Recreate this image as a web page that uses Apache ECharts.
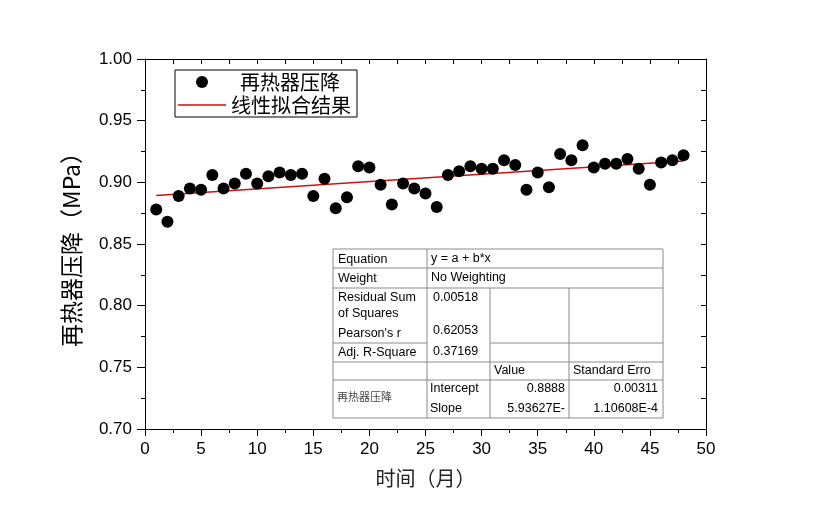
<!DOCTYPE html>
<html lang="zh">
<head>
<meta charset="UTF-8">
<title>再热器压降</title>
<style>
  html, body { margin: 0; padding: 0; background: #fff; }
  #main { width: 817px; height: 515px; }
</style>
<script src="https://cdn.jsdelivr.net/npm/echarts@6/dist/echarts.min.js"></script>
</head>
<body>
<div id="main"></div>
<script>
// 月份
var months = [1,2,3,4,5,6,7,8,9,10,11,12,13,14,15,16,17,18,19,20,21,22,23,24,
              25,26,27,28,29,30,31,32,33,34,35,36,37,38,39,40,41,42,43,44,45,46,47,48];
// 再热器压降 (MPa)
var pressureDrop = [0.878,0.868,0.889,0.895,0.894,0.906,0.895,0.899,0.907,0.899,0.905,0.908,
                    0.906,0.907,0.889,0.903,0.879,0.888,0.913,0.912,0.898,0.882,0.899,0.895,
                    0.891,0.880,0.906,0.909,0.913,0.911,0.911,0.918,0.914,0.894,0.908,0.896,
                    0.923,0.918,0.930,0.912,0.915,0.915,0.919,0.911,0.898,0.916,0.918,0.922];
// 线性拟合结果 (端点)
var fitX = [1, 48];
var fitY = [0.8894, 0.9173];

var yTicks = ['0.70','0.75','0.80','0.85','0.90','0.95','1.00'];

var tableRows = [
  ['Equation', 'y = a + b*x'],
  ['Weight', 'No Weighting'],
  ['Residual Sum\nof Squares', '0.00518'],
  ["Pearson's r", '0.62053'],
  ['Adj. R-Square', '0.37169']
];
var tableParams = [
  ['', 'Value', 'Standard Erro'],
  ['Intercept', '0.8888', '0.00311'],
  ['Slope', '5.93627E-', '1.10608E-4']
];

var chart = echarts.init(document.getElementById('main'));

var scatterData = months.map(function (m, i) { return [m, pressureDrop[i]]; });
var fitData = fitX.map(function (x, i) { return [x, fitY[i]]; });

var fontEn = 'Liberation Sans';
var fontCn = 'Noto Sans CJK SC';

// 统计表
var tb = { x0: 333, x1: 427, x2: 490, x3: 569, x4: 663 };
var rowsY = [249, 268, 288, 343, 362, 380, 418];
var lineStyle = { stroke: '#8a8a8a', lineWidth: 1 };
var g = [];
function hline(x1, x2, y) {
  g.push({ type: 'line', shape: { x1: x1, y1: y, x2: x2, y2: y }, style: lineStyle, silent: true });
}
function vline(x, y1, y2) {
  g.push({ type: 'line', shape: { x1: x, y1: y1, x2: x, y2: y2 }, style: lineStyle, silent: true });
}
function txt(x, y, s, align, font) {
  g.push({ type: 'text', x: x, y: y, silent: true,
    style: { text: s, fill: '#000', font: '12.5px "' + (font || fontEn) + '"',
             align: align || 'left', verticalAlign: 'top', lineHeight: 16 } });
}
g.push({ type: 'rect', shape: { x: tb.x0, y: rowsY[0], width: tb.x4 - tb.x0, height: rowsY[6] - rowsY[0] },
         style: { fill: '#fff', stroke: '#8a8a8a', lineWidth: 1 }, silent: true });
hline(tb.x0, tb.x4, rowsY[1]);
hline(tb.x0, tb.x4, rowsY[2]);
hline(tb.x0, tb.x1, rowsY[3]);
hline(tb.x2, tb.x4, rowsY[3]);
hline(tb.x0, tb.x4, rowsY[4]);
hline(tb.x0, tb.x4, rowsY[5]);
vline(tb.x1, rowsY[0], rowsY[6]);
vline(tb.x2, rowsY[2], rowsY[6]);
vline(tb.x3, rowsY[2], rowsY[6]);

txt(tb.x0 + 5, 252, tableRows[0][0]); txt(tb.x1 + 4, 251, tableRows[0][1]);
txt(tb.x0 + 5, 271, tableRows[1][0]); txt(tb.x1 + 4, 270, tableRows[1][1]);
txt(tb.x0 + 5, 290, tableRows[2][0]); txt(tb.x1 + 6, 290, tableRows[2][1]);
txt(tb.x0 + 5, 326, tableRows[3][0]); txt(tb.x1 + 6, 323, tableRows[3][1]);
txt(tb.x0 + 5, 345, tableRows[4][0]); txt(tb.x1 + 6, 344, tableRows[4][1]);
txt(tb.x2 + 4, 363, tableParams[0][1]); txt(tb.x3 + 4, 363, tableParams[0][2]);
txt(tb.x1 + 3, 381, tableParams[1][0]); txt(tb.x3 - 4, 381, tableParams[1][1], 'right'); txt(tb.x4 - 5, 381, tableParams[1][2], 'right');
txt(tb.x1 + 3, 401, tableParams[2][0]); txt(tb.x3 - 4, 401, tableParams[2][1], 'right'); txt(tb.x4 - 5, 401, tableParams[2][2], 'right');
g.push({ type: 'text', x: 337, y: 391, silent: true,
  style: { text: '再热器压降', fill: '#444', font: '11px "' + fontCn + '"', verticalAlign: 'top' } });

function axisBase(inside, majorLen, minorLen) {
  return {
    axisLine: { show: true, onZero: false, lineStyle: { color: '#000', width: 1 } },
    axisTick: { show: true, inside: inside, length: majorLen, lineStyle: { color: '#000' } },
    minorTick: { show: true, splitNumber: 2, length: minorLen, lineStyle: { color: '#000' } },
    splitLine: { show: false },
    minorSplitLine: { show: false }
  };
}

chart.setOption({
  animation: false,
  backgroundColor: '#fff',
  grid: { left: 145, right: 111, top: 59, bottom: 86, containLabel: false },
  legend: {
    left: 175, top: 70, orient: 'vertical', itemGap: 1,
    borderColor: '#000', borderWidth: 1, padding: [1, 6, 1, 3],
    itemWidth: 48, itemHeight: 12,
    textStyle: { fontFamily: fontCn, fontSize: 20, lineHeight: 22, color: '#000' },
    formatter: function (name) { return name === '再热器压降' ? '  ' + name : name; },
    data: [
      { name: '再热器压降', icon: 'circle' },
      { name: '线性拟合结果', icon: 'path://M0,5 L48,5 L48,6.5 L0,6.5 Z' }
    ]
  },
  xAxis: [
    Object.assign(axisBase(false, 7, 4), {
      type: 'value', min: 0, max: 50, interval: 5, position: 'bottom',
      name: '时间（月）', nameLocation: 'middle', nameGap: 39,
      nameTextStyle: { fontFamily: fontCn, fontSize: 20, color: '#222' },
      axisLabel: { fontFamily: fontEn, fontSize: 17, color: '#000', margin: 12 }
    }),
    Object.assign(axisBase(true, 5, 5), {
      type: 'value', min: 0, max: 50, interval: 5, position: 'top',
      axisLabel: { show: false }
    })
  ],
  yAxis: [
    Object.assign(axisBase(false, 8, 4), {
      type: 'value', min: 0.7, max: 1.0, interval: 0.05, position: 'left',
      name: '再热器压降（MPa）', nameLocation: 'middle', nameGap: 62, nameRotate: 90,
      nameTextStyle: { fontFamily: fontCn, fontSize: 23, color: '#000' },
      axisLabel: { fontFamily: fontEn, fontSize: 17, color: '#000', margin: 13,
        formatter: function (v) { return yTicks[Math.round((v - 0.7) / 0.05)]; } }
    }),
    Object.assign(axisBase(true, 5, 5), {
      type: 'value', min: 0.7, max: 1.0, interval: 0.05, position: 'right',
      axisLabel: { show: false }
    })
  ],
  series: [
    {
      name: '再热器压降', type: 'scatter', symbolSize: 12,
      itemStyle: { color: '#000', opacity: 1 }, data: scatterData, z: 3
    },
    {
      name: '线性拟合结果', type: 'line', symbol: 'none',
      lineStyle: { color: '#cc1111', width: 1.5 }, itemStyle: { color: '#cc1111' },
      data: fitData, z: 2
    }
  ],
  graphic: g
});
</script>
</body>
</html>
